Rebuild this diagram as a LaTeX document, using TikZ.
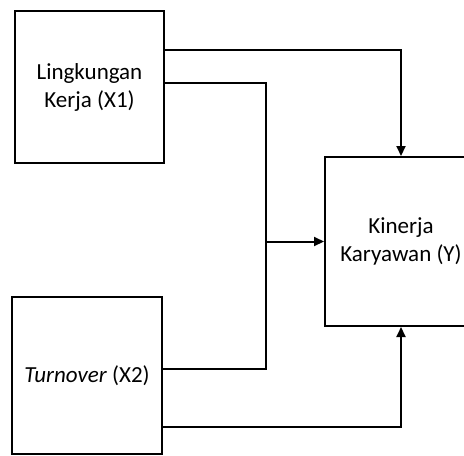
\documentclass[tikz,border=0pt]{standalone}
\usepackage{fontspec}
\setmainfont{Carlito}
\usetikzlibrary{arrows.meta}

\begin{document}
\begin{tikzpicture}[x=0.5pt,y=-0.5pt,>={Triangle[length=5pt,width=4.5pt]},line width=1pt,
  font=\fontsize{11.5}{14}\selectfont,
  varbox/.style={draw,align=center,inner sep=0pt}]
\clip (0,0) rectangle (464,455);
\node[varbox,minimum width=74.5pt,minimum height=76pt] (x1) at (89.5,87) {Lingkungan\\Kerja (X1)};
\node[varbox,minimum width=75pt,minimum height=78.5pt] (x2) at (87,375.5) {\textit{Turnover} (X2)};
\node[varbox,minimum width=76pt,minimum height=84.5pt] (y) at (401,241.5) {Kinerja\\Karyawan (Y)};
\coordinate (jn) at (266,241.5);
% X1 langsung ke Y
\draw[->] ([yshift=18.5pt]x1.east) -| (y.north);
% X1 dan X2 bersama ke Y
\draw ([yshift=2pt]x1.east) -| (jn) |- ([yshift=3.25pt]x2.east);
\draw[->] (jn) -- (y.west);
% X2 langsung ke Y
\draw[->] ([yshift=-25.75pt]x2.east) -| (y.south);
\end{tikzpicture}
\end{document}
